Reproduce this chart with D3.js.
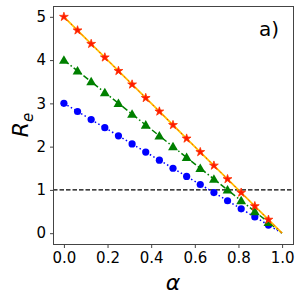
<!DOCTYPE html>
<html>
<head>
<meta charset="utf-8">
<script src="https://cdn.jsdelivr.net/npm/d3@7"></script>
<style>
  body { margin: 0; background: #fff; }
  svg { display: block; font-family: "DejaVu Sans", sans-serif; }
</style>
</head>
<body>
<div id="chart"></div>
<script>
// alpha values (last one = 1.0 only used by the lines)
const alpha = [0, 0.0625, 0.125, 0.1875, 0.25, 0.3125, 0.375, 0.4375, 0.5,
  0.5625, 0.625, 0.6875, 0.75, 0.8125, 0.875, 0.9375, 1.0];
const re5 = [5, 4.6875, 4.375, 4.0625, 3.75, 3.4375, 3.125, 2.8125, 2.5,
  2.1875, 1.875, 1.5625, 1.25, 0.9375, 0.625, 0.3125, 0];
const re4 = [4, 3.75, 3.5, 3.25, 3, 2.75, 2.5, 2.25, 2,
  1.75, 1.5, 1.25, 1, 0.75, 0.5, 0.25, 0];
const re3 = [3, 2.8125, 2.625, 2.4375, 2.25, 2.0625, 1.875, 1.6875, 1.5,
  1.3125, 1.125, 0.9375, 0.75, 0.5625, 0.375, 0.1875, 0];
const xTicks = [0, 0.2, 0.4, 0.6, 0.8, 1.0];
const yTicks = [0, 1, 2, 3, 4, 5];
const threshold = [1];

const width = 304, height = 304;
const margin = {top: 6, right: 11, bottom: 60, left: 53};

const svg = d3.select("#chart").append("svg")
  .attr("width", width)
  .attr("height", height);

const x = d3.scaleLinear().domain([-0.05, 1.05]).range([margin.left, width - margin.right]);
const y = d3.scaleLinear().domain([-0.25, 5.25]).range([height - margin.bottom, margin.top]);

const pts = ys => alpha.map((a, i) => ({a: a, v: ys[i]}));
const line = d3.line().x(d => x(d.a)).y(d => y(d.v));

// threshold line
svg.selectAll(".thr").data(threshold).enter().append("line")
  .attr("x1", x.range()[0]).attr("x2", x.range()[1])
  .attr("y1", d => y(d)).attr("y2", d => y(d))
  .attr("stroke", "#000").attr("stroke-width", 1.2)
  .attr("stroke-dasharray", "4.5,2");

// blue series
svg.append("path").datum(pts(re3)).attr("d", line)
  .attr("fill", "none").attr("stroke", "#0000ff").attr("stroke-width", 1.5)
  .attr("stroke-dasharray", "1.5,2.5");
svg.selectAll(".blue").data(pts(re3).filter(d => d.a < 1)).enter().append("circle")
  .attr("cx", d => x(d.a)).attr("cy", d => y(d.v)).attr("r", 3.6)
  .attr("fill", "#0000ff");

// green series
svg.append("path").datum(pts(re4)).attr("d", line)
  .attr("fill", "none").attr("stroke", "#008000").attr("stroke-width", 1.5)
  .attr("stroke-dasharray", "6,2.5,1.5,2.5");
svg.selectAll(".green").data(pts(re4).filter(d => d.a < 1)).enter().append("path")
  .attr("d", d3.symbol(d3.symbolTriangle, 42))
  .attr("transform", d => `translate(${x(d.a)},${y(d.v) + 0.8})`)
  .attr("fill", "#008000");

// orange + red series
svg.append("path").datum(pts(re5)).attr("d", line)
  .attr("fill", "none").attr("stroke", "#ffc400").attr("stroke-width", 1.8);
svg.append("path").datum(pts(re5)).attr("d", line)
  .attr("fill", "none").attr("stroke", "#ff2a00").attr("stroke-width", 1)
  .attr("stroke-dasharray", "1.5,3.5");
svg.selectAll(".red").data(pts(re5).filter(d => d.a < 1)).enter().append("path")
  .attr("d", d3.symbol(d3.symbolStar, 24))
  .attr("transform", d => `translate(${x(d.a)},${y(d.v)})`)
  .attr("fill", "#ff1a00").attr("stroke", "#ff3000").attr("stroke-width", 0.8);

// frame
svg.append("rect")
  .attr("x", x.range()[0] + 0.5).attr("y", y.range()[1] + 0.5)
  .attr("width", x.range()[1] - x.range()[0])
  .attr("height", y.range()[0] - y.range()[1])
  .attr("fill", "none").attr("stroke", "#444").attr("stroke-width", 1);

// axes
const xAxis = svg.append("g")
  .attr("transform", `translate(0,${y.range()[0] + 0.5})`)
  .call(d3.axisBottom(x).tickValues(xTicks).tickFormat(d3.format(".1f")).tickSize(3.5).tickPadding(4));
const yAxis = svg.append("g")
  .attr("transform", `translate(${x.range()[0] + 0.5},0)`)
  .call(d3.axisLeft(y).tickValues(yTicks).tickFormat(d3.format("d")).tickSize(3.5).tickPadding(4));
[xAxis, yAxis].forEach(g => {
  g.select(".domain").remove();
  g.selectAll(".tick line").attr("stroke", "#444");
  g.selectAll(".tick text").attr("fill", "#000")
    .style("font-family", "DejaVu Sans").style("font-size", "15px");
});

// axis labels
svg.append("text")
  .attr("x", (x.range()[0] + x.range()[1]) / 2).attr("y", 290)
  .attr("text-anchor", "middle")
  .style("font-size", "22px").style("font-style", "italic")
  .text("α");

const yl = svg.append("text")
  .attr("transform", `translate(28,${(y.range()[0] + y.range()[1]) / 2}) rotate(-90)`)
  .attr("text-anchor", "middle")
  .style("font-size", "22px").style("font-style", "italic");
yl.append("tspan").text("R");
yl.append("tspan").attr("dy", 5).style("font-size", "15px").text("e");

// panel label
svg.append("text")
  .attr("x", 279).attr("y", 36)
  .attr("text-anchor", "end")
  .style("font-size", "20px")
  .text("a)");
</script>
</body>
</html>
